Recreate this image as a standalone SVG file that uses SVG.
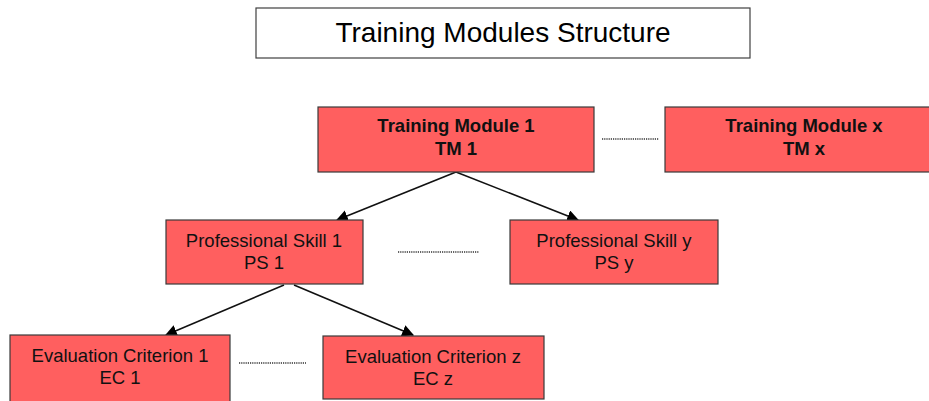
<svg xmlns="http://www.w3.org/2000/svg" width="929" height="401" viewBox="0 0 929 401">
  <style>
    .box { fill: #ff5f5f; stroke: #3a3a3a; stroke-width: 1.2; }
    .title-box { fill: #ffffff; stroke: #404040; stroke-width: 1.2; }
    .lbl { font-family: "Liberation Sans", Arial, sans-serif; font-size: 18.5px; fill: #111; text-anchor: middle; }
    .bold { font-weight: bold; font-size: 18.5px; }
    .title { font-family: "Liberation Sans", Arial, sans-serif; font-size: 28px; fill: #000; text-anchor: middle; }
    .edge { stroke: #111; stroke-width: 1.6; fill: none; marker-end: url(#arrow); }
    .dots { stroke: #333; stroke-width: 1.3; stroke-dasharray: 1.2 1; fill: none; }
  </style>
  <defs>
    <marker id="arrow" viewBox="0 0 10 10" refX="9" refY="5" markerWidth="12" markerHeight="12" markerUnits="userSpaceOnUse" orient="auto">
      <path d="M0,0 L10,5 L0,10 Z" fill="#000"/>
    </marker>
  </defs>

  <rect width="929" height="401" fill="#ffffff"/>

  <g id="title">
    <rect class="title-box" x="256" y="8" width="494" height="50"/>
    <text class="title" x="503" y="42">Training Modules Structure</text>
  </g>

  <g id="connectors">
    <line class="edge" x1="456" y1="172" x2="337" y2="220"/>
    <line class="edge" x1="456" y1="172" x2="578" y2="220"/>
    <line class="edge" x1="284" y1="285" x2="166" y2="335"/>
    <line class="edge" x1="294" y1="285" x2="413" y2="335"/>
    <line class="dots" x1="602" y1="139" x2="659" y2="139"/>
    <line class="dots" x1="398" y1="252" x2="479" y2="252"/>
    <line class="dots" x1="239" y1="363" x2="306" y2="363"/>
  </g>

  <g id="tm1">
    <rect class="box" x="318" y="107" width="276" height="65"/>
    <text class="lbl bold" x="456" y="132">Training Module 1</text>
    <text class="lbl bold" x="456" y="155">TM 1</text>
  </g>

  <g id="tmx">
    <rect class="box" x="665" y="107" width="276" height="65"/>
    <text class="lbl bold" x="804" y="132">Training Module x</text>
    <text class="lbl bold" x="804" y="155">TM x</text>
  </g>

  <g id="ps1">
    <rect class="box" x="166" y="220" width="197" height="64"/>
    <text class="lbl" x="264" y="247">Professional Skill 1</text>
    <text class="lbl" x="264" y="269">PS 1</text>
  </g>

  <g id="psy">
    <rect class="box" x="510" y="220" width="208" height="64"/>
    <text class="lbl" x="614" y="247">Professional Skill y</text>
    <text class="lbl" x="614" y="269">PS y</text>
  </g>

  <g id="ec1">
    <rect class="box" x="10" y="335" width="220" height="70"/>
    <text class="lbl" x="120" y="362">Evaluation Criterion 1</text>
    <text class="lbl" x="120" y="384">EC 1</text>
  </g>

  <g id="ecz">
    <rect class="box" x="323" y="336" width="221" height="63"/>
    <text class="lbl" x="433" y="363">Evaluation Criterion z</text>
    <text class="lbl" x="433" y="385">EC z</text>
  </g>
</svg>
